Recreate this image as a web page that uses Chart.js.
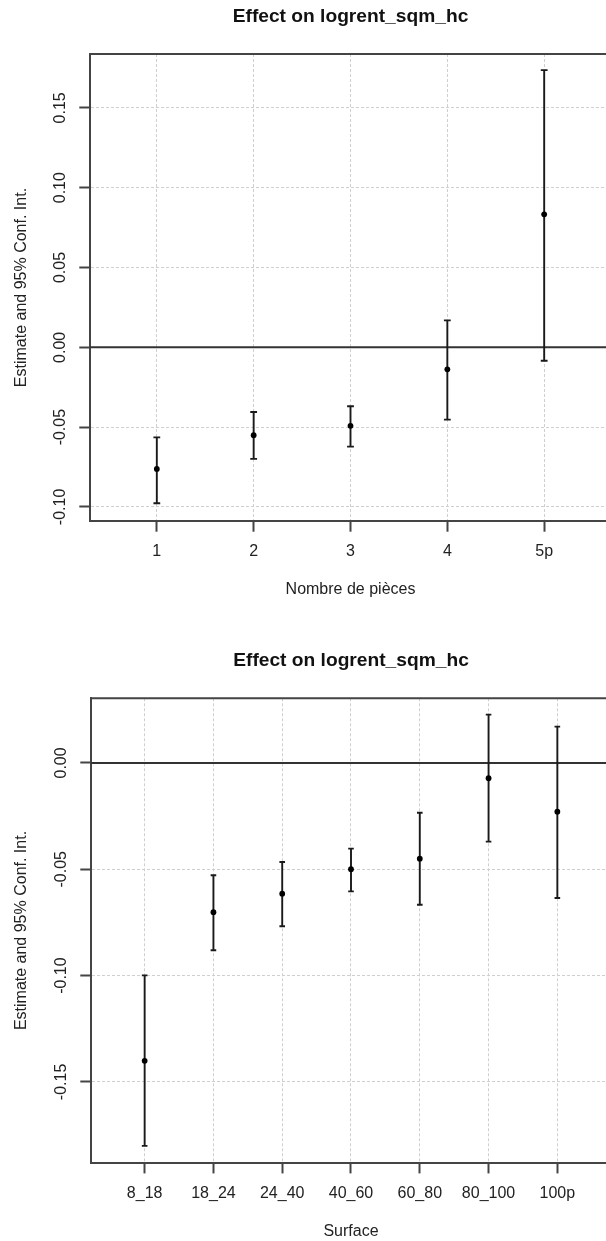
<!DOCTYPE html>
<html>
<head>
<meta charset="utf-8">
<script src="https://cdn.jsdelivr.net/npm/chart.js@4.4.1/dist/chart.umd.min.js"></script>
<style>
  html, body { margin: 0; padding: 0; background: #fff; overflow: hidden; }
  #wrap { position: relative; width: 606px; height: 1241px; overflow: hidden; }
  canvas { position: absolute; left: 0; }
</style>
</head>
<body>
<div id="wrap">
  <canvas id="rooms" width="615" height="620" style="top:0"></canvas>
  <canvas id="surface" width="615" height="601" style="top:640px"></canvas>
</div>
<script>
// Nombre de pièces
const roomLabels = ['1', '2', '3', '4', '5p'];
const roomEst  = [-0.0762, -0.0551, -0.0492, -0.0138, 0.0833];
const roomLow  = [-0.0977, -0.0699, -0.0622, -0.0453, -0.0084];
const roomHigh = [-0.0564, -0.0405, -0.0369, 0.0169, 0.1736];

// Surface
const surfLabels = ['8_18', '18_24', '24_40', '40_60', '60_80', '80_100', '100p'];
const surfEst  = [-0.1401, -0.0702, -0.0615, -0.0500, -0.0450, -0.0072, -0.0229];
const surfLow  = [-0.1801, -0.0881, -0.0768, -0.0604, -0.0667, -0.0370, -0.0635];
const surfHigh = [-0.0999, -0.0528, -0.0466, -0.0403, -0.0234, 0.0227, 0.0171];

Chart.defaults.font.family = "'Liberation Sans', Arial, sans-serif";
Chart.defaults.color = '#222';

const AXIS_COLOR = '#444';

function renderCIChart(canvasId, labels, est, low, high, cfg) {
  const canvas = document.getElementById(canvasId);
  if (!canvas) return;
  const ctx = canvas.getContext('2d');

  // whiskers, zero line, top/right box and rotated y labels
  const ciPlugin = {
    id: 'ciBars',
    beforeDatasetsDraw(chart) {
      const { ctx, chartArea, scales: { x, y } } = chart;
      ctx.save();
      ctx.strokeStyle = '#333';
      ctx.lineWidth = 2;
      const y0 = y.getPixelForValue(0);
      ctx.beginPath();
      ctx.moveTo(chartArea.left, y0);
      ctx.lineTo(chartArea.right, y0);
      ctx.stroke();

      ctx.strokeStyle = '#1a1a1a';
      ctx.lineWidth = 1.9;
      low.forEach((lo, i) => {
        const px = x.getPixelForValue(i + 1);
        const pLo = y.getPixelForValue(lo);
        const pHi = y.getPixelForValue(high[i]);
        ctx.beginPath();
        ctx.moveTo(px, pLo);
        ctx.lineTo(px, pHi);
        ctx.moveTo(px - cfg.cap, pLo);
        ctx.lineTo(px + cfg.cap, pLo);
        ctx.moveTo(px - cfg.cap, pHi);
        ctx.lineTo(px + cfg.cap, pHi);
        ctx.stroke();
      });
      ctx.restore();
    },
    afterDraw(chart) {
      const { ctx, chartArea, scales: { y } } = chart;
      ctx.save();
      ctx.strokeStyle = AXIS_COLOR;
      ctx.lineWidth = 2;
      ctx.beginPath();
      ctx.moveTo(chartArea.left - 1, chartArea.top);
      ctx.lineTo(chartArea.right, chartArea.top);
      ctx.lineTo(chartArea.right, chartArea.bottom);
      ctx.stroke();

      ctx.fillStyle = '#222';
      ctx.font = "16px 'Liberation Sans', Arial, sans-serif";
      ctx.textAlign = 'center';
      ctx.textBaseline = 'middle';
      y.ticks.forEach(t => {
        const py = y.getPixelForValue(t.value);
        ctx.save();
        ctx.translate(cfg.yLabelX, py);
        ctx.rotate(-Math.PI / 2);
        ctx.fillText(t.value.toFixed(2), 0, 0);
        ctx.restore();
      });
      ctx.restore();
    }
  };

  const config = {
    type: 'scatter',
    data: {
      datasets: [{
        data: est.map((v, i) => ({ x: i + 1, y: v })),
        pointRadius: 2.9,
        pointBackgroundColor: '#000',
        pointBorderWidth: 0,
        showLine: false
      }]
    },
    options: {
      responsive: false,
      animation: false,
      events: [],
      layout: { padding: { left: 0, right: 0.5, top: 0, bottom: 0 } },
      plugins: {
        legend: { display: false },
        tooltip: { enabled: false },
        title: {
          display: true,
          text: 'Effect on logrent_sqm_hc',
          fullSize: false,
          color: '#111',
          font: { size: 19.2, weight: 'bold' },
          padding: cfg.titlePad
        }
      },
      scales: {
        x: {
          type: 'linear',
          min: cfg.xMin,
          max: cfg.xMax,
          afterFit: s => { s.height = cfg.xAxisH; },
          ticks: {
            stepSize: 1,
            includeBounds: false,
            autoSkip: false,
            maxRotation: 0,
            padding: 10.4,
            font: { size: 16 },
            callback: v => labels[v - 1] ?? null
          },
          grid: {
            color: '#cfcfcf',
            lineWidth: 1,
            tickLength: 10.7,
            tickColor: AXIS_COLOR,
            tickWidth: 2
          },
          border: { color: AXIS_COLOR, width: 2, dash: [3, 2] },
          title: {
            display: true,
            text: cfg.xTitle,
            font: { size: 16 },
            padding: { top: 0, bottom: cfg.xTitlePadB }
          }
        },
        y: {
          min: cfg.yMin,
          max: cfg.yMax,
          afterFit: s => { s.width = cfg.yAxisW; },
          ticks: { stepSize: 0.05, includeBounds: false, display: false },
          grid: {
            color: '#cfcfcf',
            lineWidth: 1,
            tickLength: 10.7,
            tickColor: AXIS_COLOR,
            tickWidth: 2
          },
          border: { color: AXIS_COLOR, width: 2, dash: [3, 2] },
          title: {
            display: true,
            text: 'Estimate and 95% Conf. Int.',
            font: { size: 16 },
            padding: { top: 11.5, bottom: 0 }
          }
        }
      }
    },
    plugins: [ciPlugin]
  };

  return new Chart(ctx, config);
}

renderCIChart('rooms', roomLabels, roomEst, roomLow, roomHigh, {
  xTitle: 'Nombre de pièces',
  xMin: 0.31, xMax: 5.69,
  yMin: -0.1088, yMax: 0.1837,
  xAxisH: 99, yAxisW: 90,
  xTitlePadB: 20.4,
  titlePad: { top: 5.2, bottom: 25.8 },
  yLabelX: 61,
  cap: 3.4
});

renderCIChart('surface', surfLabels, surfEst, surfLow, surfHigh, {
  xTitle: 'Surface',
  xMin: 0.22, xMax: 7.78,
  yMin: -0.188, yMax: 0.0304,
  xAxisH: 78.3, yAxisW: 91,
  xTitlePadB: 0,
  titlePad: { top: 9.2, bottom: 26.06 },
  yLabelX: 62,
  cap: 2.8
});
</script>
</body>
</html>
